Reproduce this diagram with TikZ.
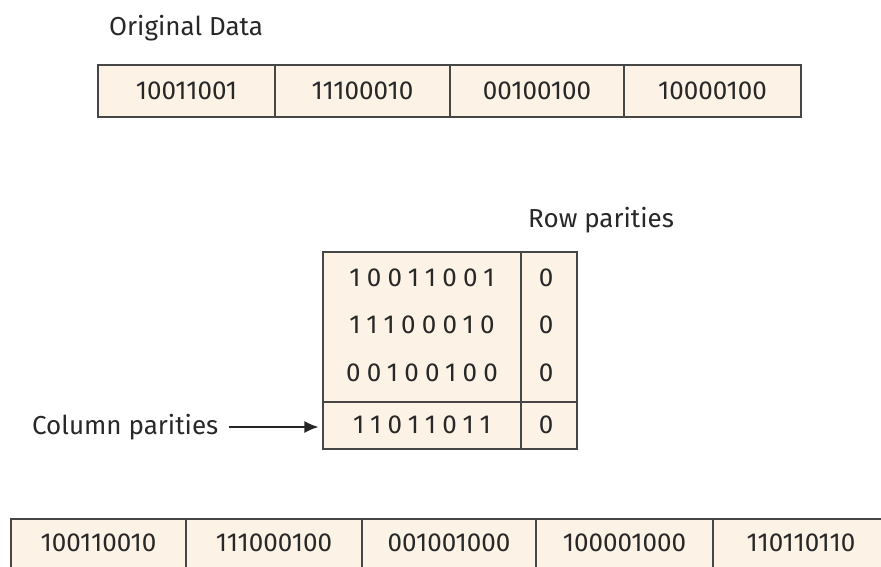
\documentclass[tikz,border=0pt]{standalone}
\usepackage{fontspec}
\setmainfont{Fira Sans}
\newfontfamily\spaced[LetterSpace=24]{Fira Sans}
\usetikzlibrary{arrows.meta}
\definecolor{cellfill}{RGB}{253,242,230}
\definecolor{inkline}{RGB}{70,70,70}
\definecolor{inktext}{RGB}{40,40,40}
\begin{document}
\begin{tikzpicture}[x=1pt,y=-1pt,
  cell/.style={draw=inkline,line width=1.3pt,fill=cellfill,inner sep=0pt,
    font=\fontsize{26}{30}\selectfont,text=inktext},
  lbl/.style={font=\fontsize{26}{30}\selectfont,text=inktext,inner sep=0pt},
  sbits/.style={font=\spaced\fontsize{26}{30}\selectfont,text=inktext,inner sep=0pt},
  pbit/.style={font=\fontsize{26}{30}\selectfont,text=inktext,inner sep=0pt}]
\useasboundingbox (0,0) rectangle (881,567);
\fill[white] (0,0) rectangle (881,567);

% original data words
\node[lbl,anchor=base west] (title) at (109,36) {Original Data};
\foreach \a/\b/\t [count=\i] in {98/275/10011001,275/450/11100010,450/624/00100100,624/801/10000100}{
  \node[cell,minimum width={\b-\a},minimum height=52pt] (d\i) at ({(\a+\b)/2},91) {\t};
}

% parity matrix: data bits and the row-parity column
\node[cell,minimum width=198pt,minimum height=197pt] (mat) at (422,350.5) {};
\node[cell,minimum width=56pt,minimum height=197pt] (par) at (549,350.5) {};
\coordinate (sepL) at (mat.west |- 0,402);
\coordinate (sepR) at (par.east |- 0,402);
\draw[inkline,line width=1.3pt] (sepL) -- (sepR);
\foreach \y/\t [count=\i] in {278/10011001,325/11100010,373/00100100,425/11011011}{
  \node[sbits] (r\i) at (422,\y) {\t\hspace{-0.24em}};
  \node[pbit] (p\i) at (546,\y) {0};
}
\node[lbl,anchor=base west] (rowlbl) at (528,227) {Row parities};
\node[lbl,anchor=base west] (collbl) at (32,434) {Column parities};
\draw[black!85,-{Latex[length=14pt,width=12pt]},line width=1.4pt]
  ([xshift=10pt]collbl.east |- 0,427) -- ([xshift=-4pt]mat.west |- 0,427);

% transmitted words with parity bits; the row runs past the page edge
\foreach \a/\b/\t [count=\i] in {11/186/100110010,186/362/111000100,362/536/001001000,536/713/100001000,713/889/110110110}{
  \node[cell,minimum width={\b-\a},minimum height=60pt] (t\i) at ({(\a+\b)/2},549) {};
  \node[cell,draw=none,fill=none] (w\i) at ({(\a+\b)/2},543) {\t};
}
\end{tikzpicture}
\end{document}
